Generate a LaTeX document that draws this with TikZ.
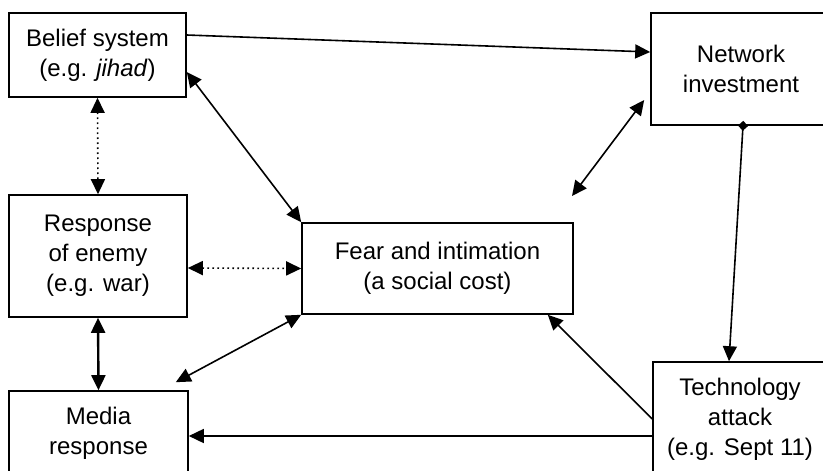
\documentclass[tikz,border=0pt]{standalone}
\usepackage{fontspec}
\setmainfont{Liberation Sans}
\usetikzlibrary{arrows.meta,calc}
\begin{document}
\begin{tikzpicture}[x=1pt,y=-1pt,
  box/.style={draw=black, line width=1.6pt, align=center, inner sep=0pt,
    font=\fontsize{24}{30}\selectfont},
  conn/.style={line width=1.6pt, black},
  tip/.style={-{Triangle[length=15pt,width=14pt]}},
  bitip/.style={{Triangle[length=15pt,width=14pt]}-{Triangle[length=15pt,width=14pt]}},
  dots/.style={dash pattern=on 1.6pt off 3.4pt}]
\useasboundingbox (0,0) rectangle (823,471);
\clip (0,0) rectangle (823,471);
\node[box, minimum width=177pt, minimum height=84pt] (belief) at (97.5,55) {Belief system\\(e.g. \textit{jihad})};
\node[box, minimum width=180pt, minimum height=112pt] (network) at (741,69) {Network\\investment};
\node[box, minimum width=178pt, minimum height=122pt] (response) at (98,256) {Response\\of enemy\\(e.g. war)};
\node[box, minimum width=271pt, minimum height=91pt] (fear) at (437.5,268.5) {Fear and intimation\\(a social cost)};
\node[box, minimum width=179pt, minimum height=84pt] (media) at (98.5,433) {Media\\response};
\node[box, minimum width=174pt, minimum height=114pt] (tech) at (740,419) {Technology\\attack\\(e.g. Sept 11)};
\coordinate (nf) at (572,196);
% connectors
\draw[conn, tip] ([yshift=20pt]belief.east) -- ([yshift=17pt]network.west);
\draw[conn, bitip] ([yshift=-17pt]belief.east) -- (fear.north west);
\draw[conn, bitip, dots] (belief.south) -- (response.north);
\draw[conn, bitip, dots] ([yshift=-12pt]response.east) -- (fear.west);
\draw[line width=2.4pt, bitip] (response.south) -- (media.north);
\draw[conn, bitip] ([xshift=-13pt,yshift=8pt]media.north east) -- (fear.south west);
\draw[conn, bitip] (nf) -- ([xshift=-6pt,yshift=-31pt]network.west);
\draw[conn, {Diamond[length=10pt,width=10pt]}-{Triangle[length=15pt,width=14pt]}, shorten <=-5pt] ([xshift=2pt]network.south) -- ([xshift=-11pt]tech.north);
\draw[conn, tip] (tech.west) -- ([xshift=-26pt]fear.south east);
\draw[conn, tip] ([yshift=-17pt]tech.west) -- ([yshift=-3pt]media.east);
\end{tikzpicture}
\end{document}
